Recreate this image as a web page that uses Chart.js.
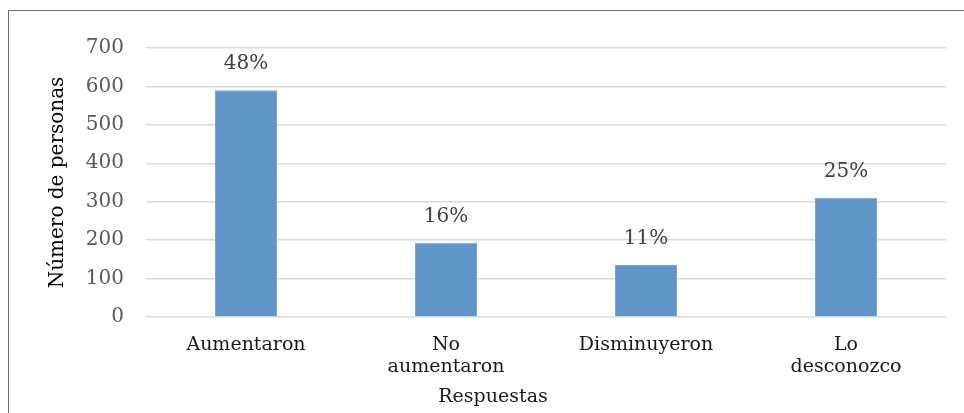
<html>

<head>
    <title>Respuestas</title>
    <meta charset="utf-8">
    <script src="https://cdn.jsdelivr.net/npm/chart.js@4.4.1/dist/chart.umd.min.js"></script>
    <style>
        body { margin: 0; background: #fff; overflow: hidden; }
        #frame { position: absolute; left: 8px; top: 10px; width: 1000px; height: 500px; border: 1px solid #707070; }
        #wrap { position: absolute; left: 0; top: 0; width: 964px; height: 413px; }
    </style>
</head>

<body>
    <div id="frame"></div>
    <div id="wrap"><canvas id="chart" width="964" height="413"></canvas></div>

    <script>
        const categories = ['Aumentaron', ['No', 'aumentaron'], 'Disminuyeron', ['Lo', 'desconozco']];
        const personas = [590, 193, 135, 310];
        const yTicks = [0, 100, 200, 300, 400, 500, 600, 700];

        const serif = 'DejaVu Serif';
        const total = personas.reduce((a, b) => a + b, 0);

        /* porcentaje encima de cada barra */
        const pctLabels = {
            id: 'pctLabels',
            afterDatasetsDraw(chart) {
                const ctx = chart.ctx;
                const meta = chart.getDatasetMeta(0);
                ctx.save();
                ctx.font = '20px "' + serif + '"';
                ctx.fillStyle = '#404040';
                ctx.textAlign = 'center';
                ctx.textBaseline = 'middle';
                meta.data.forEach((bar, i) => {
                    const pct = Math.round(personas[i] / total * 100) + '%';
                    ctx.fillText(pct, bar.x, bar.y - 26);
                });
                ctx.restore();
            }
        };

        /* titulo del eje x */
        const xTitle = {
            id: 'xTitle',
            afterDraw(chart) {
                const ctx = chart.ctx;
                ctx.save();
                ctx.font = '19px "' + serif + '"';
                ctx.fillStyle = '#1a1a1a';
                ctx.textAlign = 'center';
                ctx.textBaseline = 'middle';
                ctx.fillText('Respuestas', 493, 397);
                ctx.restore();
            }
        };

        new Chart(document.getElementById('chart'), {
            type: 'bar',
            data: {
                labels: categories,
                datasets: [{
                    data: personas,
                    backgroundColor: '#6095c9',
                    borderColor: '#7aa7d4',
                    borderWidth: 1,
                    barPercentage: 0.31,
                    categoryPercentage: 1
                }]
            },
            options: {
                responsive: false,
                animation: false,
                layout: { padding: { left: 46, top: 48, right: 18, bottom: 0 } },
                plugins: {
                    legend: { display: false },
                    tooltip: { enabled: false }
                },
                scales: {
                    x: {
                        grid: { display: false },
                        border: { display: false },
                        ticks: {
                            color: '#1a1a1a',
                            padding: 9,
                            maxRotation: 0,
                            autoSkip: false,
                            font: { family: serif, size: 19, lineHeight: 1.15 }
                        },
                        afterFit(scale) { scale.height = 96; }
                    },
                    y: {
                        min: 0,
                        max: 700,
                        afterBuildTicks(scale) { scale.ticks = yTicks.map(v => ({ value: v })); },
                        grid: { color: '#d9d9d9', lineWidth: 1.5, drawTicks: false },
                        border: { display: false },
                        ticks: {
                            color: '#595959',
                            padding: 22,
                            font: { family: serif, size: 20 }
                        },
                        title: {
                            display: true,
                            text: 'Número de personas',
                            color: '#000',
                            padding: 0,
                            font: { family: serif, size: 20 }
                        },
                        afterFit(scale) { scale.width = 100; }
                    }
                }
            },
            plugins: [pctLabels, xTitle]
        });
    </script>
</body>

</html>
